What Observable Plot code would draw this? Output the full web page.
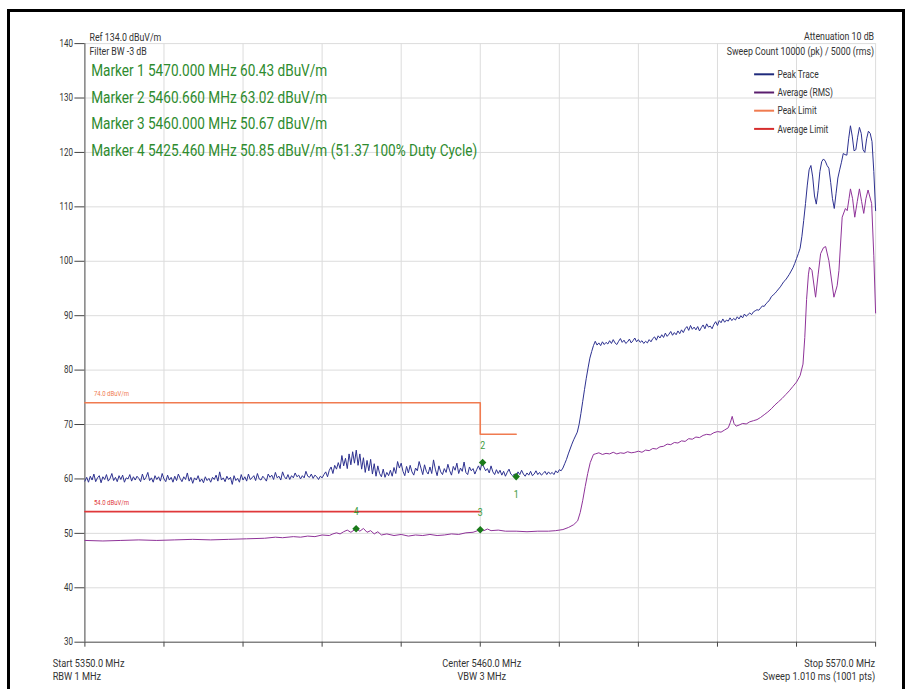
<!DOCTYPE html>
<html><head><meta charset="utf-8">
<script src="https://cdn.jsdelivr.net/npm/d3@7"></script>
<script src="https://cdn.jsdelivr.net/npm/@observablehq/plot@0.6"></script>
<style>
html,body{margin:0;padding:0;background:#fff;}
#wrap{position:relative;width:906px;height:689px;overflow:hidden;background:#fff;}
#chart svg{display:block;}
#frame{position:absolute;left:7px;top:9px;width:898px;height:720px;border:3px solid #000;box-sizing:border-box;pointer-events:none;}
</style></head>
<body><div id="wrap"><div id="chart"></div><div id="frame"></div></div>
<script>
// ---- data ----
const peakStart = 5350, peakStep = 0.5; // MHz, sample spacing of the peak trace
const peakLevel = [
59.6,60.3,59.4,60.5,59.8,60.9,59.5,60.2,60.6,59.3,
60.4,59.9,60.8,59.6,60.1,61.0,59.7,60.3,59.5,60.6,
59.9,60.7,59.4,60.2,60.0,60.8,59.6,60.4,59.8,60.5,
60.1,59.5,60.9,59.8,60.3,61.2,59.7,60.2,59.4,60.6,
59.9,60.4,59.6,61.0,60.0,59.5,60.7,59.8,60.3,59.4,
60.5,59.7,60.9,60.1,59.5,60.4,59.9,61.1,59.6,60.3,
59.2,60.2,59.8,60.6,59.5,60.0,59.3,60.4,59.7,60.1,
59.4,60.3,59.9,60.7,59.6,61.3,59.8,60.2,59.5,60.5,
59.9,60.3,59.0,60.6,59.7,60.1,59.4,60.8,59.8,60.4,
59.6,60.9,59.9,60.2,60.6,59.7,61.0,60.0,59.8,60.5,
60.1,59.6,60.9,60.3,60.7,59.9,61.2,60.2,60.5,59.8,
61.3,60.4,60.0,60.8,59.9,60.6,60.2,61.1,60.4,60.7,
60.0,60.6,60.2,61.4,60.5,60.3,60.9,60.1,60.7,60.4,
59.9,60.5,60.2,60.8,61.3,60.4,61.6,62.2,61.0,62.5,
61.8,63.0,61.9,64.3,62.4,63.8,61.9,64.6,62.6,65.0,
62.9,65.3,62.5,64.6,61.8,63.9,61.2,63.4,61.5,63.6,
60.9,62.8,60.5,62.4,61.0,60.4,61.8,60.3,61.2,60.6,
61.6,60.5,62.1,61.0,63.2,62.0,62.9,61.4,60.6,62.3,
61.1,62.5,61.3,60.7,62.0,61.5,63.2,62.0,60.8,62.6,
61.4,60.9,62.2,61.0,63.5,61.8,60.6,62.4,61.3,60.8,
61.9,61.2,62.7,61.5,60.7,62.3,61.6,62.9,61.0,62.0,
61.4,63.1,61.2,60.8,62.2,61.5,61.9,60.9,61.7,62.4,
61.6,63.0,62.2,61.5,61.9,61.1,62.4,61.3,60.8,61.7,
61.0,61.6,60.7,61.4,60.5,61.2,61.8,60.9,60.6,60.9,
60.4,61.3,60.8,61.6,60.9,60.5,61.1,60.7,61.4,60.6,
60.9,61.5,60.8,61.2,60.7,61.0,61.4,60.8,61.3,60.9,
61.2,60.8,61.5,61.1,61.7,61.5,62.0,62.8,63.6,64.6,
65.5,66.4,67.2,67.9,68.6,70.0,72.0,74.2,76.4,78.5,
80.4,82.2,83.4,84.5,85.3,84.6,85.0,84.5,85.2,84.7,
85.1,84.8,85.4,84.9,85.6,85.0,84.7,85.3,85.8,85.1,
85.5,84.9,85.2,85.7,85.0,85.4,85.9,85.2,85.6,85.1,
85.4,84.9,85.3,85.0,85.6,85.2,85.8,86.1,85.5,86.3,
85.9,86.5,86.0,86.8,86.2,86.6,87.1,86.4,86.9,86.5,
87.2,86.7,87.4,86.9,87.6,88.0,87.3,88.2,87.5,87.9,
87.4,88.0,87.2,87.8,88.3,87.6,88.5,87.9,88.1,87.6,
88.4,88.9,88.2,89.1,88.7,89.4,88.8,89.2,89.0,89.6,
89.1,89.5,89.2,89.8,89.4,90.0,89.6,90.3,89.9,90.2,
90.5,90.2,90.7,90.9,91.1,91.0,91.4,91.8,91.7,92.2,
92.5,92.9,93.5,93.8,94.1,94.5,94.9,95.3,95.8,96.3,
96.6,97.1,97.6,98.2,98.8,99.6,100.5,101.4,102.4,104.6,
107.5,110.6,114.0,116.8,117.6,115.5,112.0,110.5,113.0,116.5,
118.3,118.8,118.4,117.6,117.1,114.5,111.5,109.7,112.5,115.3,
116.8,118.2,119.8,119.6,119.5,122.5,124.9,123.0,120.3,120.5,
122.8,124.6,123.5,120.5,120.0,122.5,123.9,123.5,122.0,116.5,
109.3
];
const avgTrace = [
[5350,48.7],[5355,48.6],[5360,48.7],[5365,48.8],[5370,48.7],[5375,48.8],[5380,48.9],[5385,48.8],
[5390,48.9],[5395,49.0],[5400,49.1],[5403,49.3],[5405,49.2],[5408,49.4],[5410,49.3],[5412,49.5],
[5414,49.4],[5416,49.7],[5418,49.6],[5419,49.9],[5420,50.1],[5421,49.9],[5422,50.3],[5423,50.6],
[5424,50.2],[5425.46,50.85],[5426.5,50.4],[5427.5,50.9],[5428.5,50.2],[5429.5,50.5],[5430.5,49.9],
[5431.5,50.3],[5432.5,49.7],[5434,49.9],[5436,49.6],[5438,49.8],[5440,49.5],[5442,49.7],[5444,49.6],
[5446,49.8],[5448,49.6],[5450,49.7],[5452,49.9],[5454,49.8],[5456,50.1],[5458,50.2],[5460,50.67],
[5461,50.5],[5462,50.8],[5463,50.5],[5465,50.6],[5467,50.4],[5470,50.4],[5473,50.3],[5476,50.4],
[5479,50.4],[5481,50.5],[5483,50.7],[5484.6,51.1],[5486,51.6],[5487.1,52.3],[5487.8,53.8],
[5488.5,56.0],[5489.2,58.6],[5489.9,61.0],[5490.6,63.0],[5491.5,64.5],
[5492,64.6],[5493,64.8],[5494,64.5],[5495,64.7],[5496,64.6],[5497,64.9],[5498,64.6],[5499,64.8],
[5500,64.7],[5501,65.0],[5502,64.8],[5503,64.9],[5504,65.1],[5505,64.9],[5506,65.3],[5507,65.2],
[5508,65.6],[5509,65.5],[5510,65.9],[5511,66.0],[5512,66.4],[5513,66.3],[5514,66.7],[5515,66.6],
[5516,67.0],[5517,66.9],[5518,67.4],[5519,67.3],[5520,67.7],[5521,67.6],[5522,68.0],[5523,68.2],
[5524,68.1],[5525,68.5],[5526,68.7],[5527,68.6],[5528,69.0],[5529,69.4],[5529.6,70.4],[5530.1,71.5],
[5530.6,70.2],[5531.2,69.7],[5532,69.9],[5533,70.2],[5534,70.1],[5535,70.5],[5536,70.7],[5537,70.9],
[5538,71.3],[5539,71.8],[5540,72.3],[5541,72.9],[5542,73.6],[5543,74.2],[5544,74.8],[5545,75.5],
[5546,76.2],[5547,77.0],[5548,77.8],[5549,79.0],[5549.8,81.1],[5550.3,86.0],[5550.8,93.0],
[5551.3,97.5],[5551.6,98.9],[5552.3,98.3],[5553.3,93.4],[5554.0,97.5],[5554.7,101.4],[5555.5,102.5],
[5556.1,102.7],[5557.0,100.1],[5558.4,93.4],[5559.3,95.5],[5559.8,98.3],[5560.7,108.1],[5561.6,109.7],
[5562.1,109.3],[5562.6,111.5],[5563.0,113.3],[5563.6,111.5],[5564.2,108.1],[5564.9,111.0],
[5565.5,113.3],[5566.1,111.0],[5566.7,108.8],[5567.3,111.5],[5567.9,113.1],[5568.9,110.6],
[5569.5,101.0],[5570,90.5]
];
const peakLimit = [[5350,74],[5460,74],[5460,68.2],[5470,68.2]];
const avgLimit = [[5350,54],[5460,54]];
const markerNo = [1, 2, 3, 4];
const markerFreq = [5470.000, 5460.660, 5460.000, 5425.460];
const markerLevel = [60.43, 63.02, 50.67, 50.85];
const markerNote = ["", "", "", "(51.37 100% Duty Cycle)"];
const xTicks = [5350,5372,5394,5416,5438,5460,5482,5504,5526,5548,5570];
const yTicks = [30,40,50,60,70,80,90,100,110,120,130,140];
const headerLeft = ["Ref 134.0 dBuV/m", "Filter BW -3 dB"];
const headerRight = ["Attenuation 10 dB", "Sweep Count 10000 (pk) / 5000 (rms)"];
const footerLeft = ["Start 5350.0 MHz", "RBW 1 MHz"];
const footerCenter = ["Center 5460.0 MHz", "VBW 3 MHz"];
const footerRight = ["Stop 5570.0 MHz", "Sweep 1.010 ms (1001 pts)"];
const legendLabels = ["Peak Trace", "Average (RMS)", "Peak Limit", "Average Limit"];
const legendColors = ["#1f2a7c", "#5a1e6e", "#f07b50", "#d62d2d"];

// ---- build ----
const FONT = "Roboto";
const GREEN = "#2e8b2e";
const peakData = peakLevel.map((v, i) => ({f: peakStart + i * peakStep, l: v}));
const avgData = avgTrace.map(([f, l]) => ({f, l}));
const markers = markerNo.map((n, i) => ({n, f: markerFreq[i], l: markerLevel[i], note: markerNote[i]}));
const limits = [{v: peakLimit[0][1], f: peakLimit[0][0], c: "#f07b50"}, {v: avgLimit[0][1], f: avgLimit[0][0], c: "#e0383a"}];

const marks = [
  Plot.gridX(xTicks, {stroke: "#dcdcdc", strokeOpacity: 1}),
  Plot.gridY(yTicks, {stroke: "#dcdcdc", strokeOpacity: 1}),
  Plot.axisX(xTicks, {tickSize: 5, tickFormat: () => "", stroke: "#444", label: null}),
  Plot.axisY(yTicks, {tickSize: 10, tickPadding: 2, label: null, fontSize: 10, stroke: "#444", fill: "#333"}),
  Plot.ruleX([xTicks[0]], {stroke: "#555"}),
  Plot.ruleY([yTicks[0]], {stroke: "#555"}),
  Plot.line(peakLimit, {x: d => d[0], y: d => d[1], stroke: "#f07b50", strokeWidth: 1.6}),
  Plot.line(avgLimit, {x: d => d[0], y: d => d[1], stroke: "#e0383a", strokeWidth: 1.6}),
  Plot.text(limits, {x: "f", y: "v", text: d => `${d.v.toFixed(1)} dBuV/m`, fill: "c", dx: 9, dy: -9.5, textAnchor: "start", fontSize: 7.5, fontFamily: FONT}),
  Plot.line(peakData, {x: "f", y: "l", stroke: "#2d3190", strokeWidth: 1}),
  Plot.line(avgData, {x: "f", y: "l", stroke: "#8f3399", strokeWidth: 1}),
  Plot.dot(markers, {x: "f", y: "l", symbol: "diamond2", r: 3.4, fill: "#1a7a1a", stroke: "none"}),
  Plot.text(markers.filter(d => d.n === 1), {x: "f", y: "l", text: d => String(d.n), dy: 18, fill: "#3a9a3a", fontSize: 11, fontFamily: FONT}),
  Plot.text(markers.filter(d => d.n !== 1), {x: "f", y: "l", text: d => String(d.n), dy: -17, fill: "#3a9a3a", fontSize: 11, fontFamily: FONT}),
  ...markers.map((m, i) => Plot.text([m], {
    text: d => `Marker ${d.n} ${d.f.toFixed(3)} MHz ${d.l.toFixed(2)} dBuV/m` + (d.note ? " " + d.note : ""),
    frameAnchor: "top-left", textAnchor: "start", lineAnchor: "middle",
    dx: 6.3, dy: 27 + i * 26.7, fontSize: 17, fill: GREEN, fontFamily: FONT
  })),
  ...headerLeft.map((t, i) => Plot.text([t], {text: d => d, frameAnchor: "top-left", textAnchor: "start", lineAnchor: "middle", dx: 4.6, dy: -6.5 + i * 14, fontSize: 11, fill: "#333", fontFamily: FONT})),
  ...headerRight.map((t, i) => Plot.text([t], {text: d => d, frameAnchor: "top-right", textAnchor: "end", lineAnchor: "middle", dx: -1.5, dy: -7 + i * 15, fontSize: 11, fill: "#333", fontFamily: FONT})),
  ...footerLeft.map((t, i) => Plot.text([t], {text: d => d, frameAnchor: "bottom-left", textAnchor: "start", lineAnchor: "middle", dx: -32.2, dy: 21.6 + i * 12.7, fontSize: 11.5, fill: "#333", fontFamily: FONT})),
  ...footerCenter.map((t, i) => Plot.text([t], {text: d => d, frameAnchor: "bottom", textAnchor: "middle", lineAnchor: "middle", dx: 1.5, dy: 21.6 + i * 12.7, fontSize: 11.5, fill: "#333", fontFamily: FONT})),
  ...footerRight.map((t, i) => Plot.text([t], {text: d => d, frameAnchor: "bottom-right", textAnchor: "end", lineAnchor: "middle", dx: -0.5, dy: 21.6 + i * 12.7, fontSize: 11.5, fill: "#333", fontFamily: FONT}))
];

const chart = Plot.plot({
  width: 906, height: 689,
  marginLeft: 84.4, marginRight: 30.9, marginTop: 43.1, marginBottom: 47.3,
  x: {domain: [xTicks[0], xTicks[xTicks.length - 1]]},
  y: {domain: [yTicks[0], yTicks[yTicks.length - 1]]},
  style: {background: "transparent", fontFamily: FONT, fontSize: "10px", color: "#333", overflow: "visible"},
  marks
});
document.getElementById("chart").appendChild(chart);

// condense all Plot text horizontally (the reference face is narrow)
const SX = 0.8;
d3.select(chart).selectAll("text").each(function () {
  const t = this.getAttribute("transform") || "";
  this.setAttribute("transform", t + ` scale(${SX},1)`);
});

// legend inside the frame, top-right
const xRange = chart.scale("x").range, yRange = chart.scale("y").range;
const frameRight = Math.max(...xRange), frameTop = Math.min(...yRange);
const lg = d3.select(chart).append("g").attr("transform", `translate(${frameRight - 121},${frameTop + 31.2})`);
legendLabels.forEach((lab, i) => {
  const row = lg.append("g").attr("transform", `translate(0,${i * 18.2})`);
  row.append("line").attr("x1", 0).attr("x2", 20).attr("y1", 0).attr("y2", 0)
    .attr("stroke", legendColors[i]).attr("stroke-width", 2);
  row.append("g").attr("transform", "translate(23.3,0)")
    .append("text").attr("transform", `scale(${SX},1)`).attr("dy", "0.35em")
    .attr("text-anchor", "start")
    .attr("font-size", 10.5).attr("font-family", FONT).attr("fill", "#333").text(lab);
});
</script></body></html>
